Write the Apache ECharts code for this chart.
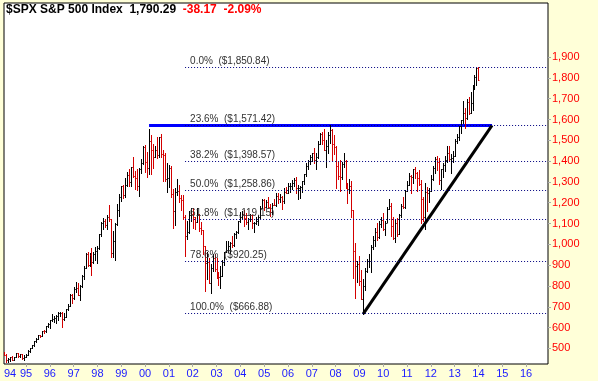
<!DOCTYPE html>
<html>
<head>
<meta charset="utf-8">
<script src="https://cdn.jsdelivr.net/npm/echarts@6.0.0/dist/echarts.min.js"></script>
<style>
html,body{margin:0;padding:0;background:#FFFFD8;}
#chart{width:598px;height:381px;}
</style>
</head>
<body>
<div id="chart"></div>
<script>
// Monthly bars, Feb 1994 .. Jan 2014 (one row per year)
var startYear = 1994, startMonth = 2;
var opens = [
 481.61,467.14,445.77,450.91,456.50,444.27,458.26,475.49,462.69,472.35,453.69,
 459.27,470.42,487.39,500.71,514.71,533.40,544.75,562.06,561.88,584.41,581.50,605.37,
 615.93,636.02,640.43,645.50,654.17,669.12,670.63,639.95,651.99,687.31,705.27,757.02,
 740.74,786.16,790.82,757.12,801.34,848.28,885.14,954.29,899.47,947.28,914.62,955.40,
 970.43,980.28,1049.34,1101.75,1111.75,1090.82,1133.84,1120.67,957.28,1017.01,1098.67,1163.63,
 1229.23,1279.64,1238.33,1286.37,1335.18,1301.84,1372.71,1328.72,1320.41,1282.71,1362.93,1388.91,
 1469.25,1394.46,1366.42,1498.58,1452.43,1420.60,1454.60,1430.83,1517.68,1436.51,1429.40,1314.95,
 1320.28,1366.01,1239.94,1160.33,1249.46,1255.82,1224.42,1211.23,1133.58,1040.94,1059.78,1139.45,
 1148.08,1130.20,1106.73,1147.39,1076.92,1067.14,989.82,911.62,916.07,815.28,885.76,936.31,
 879.82,855.70,841.15,848.18,916.92,963.59,974.50,990.31,1008.01,995.97,1050.71,1058.20,
 1111.92,1131.13,1144.94,1126.21,1107.30,1120.68,1140.84,1101.72,1104.24,1114.58,1130.20,1173.82,
 1211.92,1181.27,1203.60,1180.59,1156.85,1191.50,1191.33,1234.18,1220.33,1228.81,1207.01,1249.48,
 1248.29,1280.08,1280.66,1294.83,1310.61,1270.09,1270.20,1276.66,1303.82,1335.85,1377.94,1400.63,
 1418.30,1438.24,1406.82,1420.86,1482.37,1530.62,1503.35,1455.27,1473.99,1526.75,1549.38,1481.14,
 1468.36,1378.55,1330.63,1322.70,1385.59,1400.38,1280.00,1267.38,1282.83,1166.36,968.75,896.24,
 903.25,825.88,735.09,797.87,872.81,919.14,919.32,987.48,1020.62,1057.08,1036.19,1095.63,
 1115.10,1073.87,1104.49,1169.43,1186.69,1089.41,1030.71,1101.60,1049.33,1141.20,1183.26,1180.55,
 1257.64,1286.12,1327.22,1325.83,1363.61,1345.20,1320.64,1292.28,1218.89,1131.42,1253.30,1246.96,
 1257.60,1312.41,1365.68,1408.47,1397.91,1310.33,1362.16,1379.32,1406.58,1440.67,1412.16,1416.18,
 1426.19,1498.11,1514.68,1569.19,1597.57,1630.74,1606.28,1685.73,1632.97,1681.55,1756.54,1805.81,
 1848.36
];
var highs = [
 482,471,454,460,462,459,477,476,475,473,466,
 473,490,504,515,534,551,564,565,586,587,608,622,
 637,664,657,660,674,673,673,669,691,714,762,761,
 794,818,815,805,851,898,957,961,960,983,964,986,
 993,1051,1106,1126,1122,1141,1190,1121,1066,1104,1193,1244,
 1281,1283,1317,1346,1362,1373,1419,1351,1361,1366,1408,1474,
 1478,1445,1553,1527,1481,1475,1518,1518,1531,1454,1438,1389,
 1383,1376,1268,1269,1316,1286,1239,1235,1140,1111,1160,1173,
 1176,1131,1173,1148,1106,1071,994,965,935,907,952,954,
 935,865,895,924,965,1015,1016,1011,1040,1054,1063,1112,
 1155,1159,1164,1150,1128,1147,1141,1109,1131,1142,1184,1217,
 1217,1212,1229,1192,1200,1219,1246,1245,1243,1233,1270,1276,
 1295,1297,1311,1318,1326,1284,1280,1306,1340,1389,1407,1431,
 1441,1461,1438,1498,1535,1541,1556,1503,1539,1576,1553,1524,
 1471,1396,1406,1397,1441,1404,1293,1314,1303,1167,1007,919,
 943,876,833,888,930,956,996,1039,1080,1101,1113,1130,
 1150,1112,1180,1220,1201,1131,1120,1129,1148,1196,1227,1263,
 1303,1345,1332,1364,1371,1346,1357,1308,1229,1293,1277,1269,
 1334,1378,1420,1423,1415,1364,1392,1426,1475,1471,1434,1448,
 1504,1531,1570,1598,1688,1654,1698,1710,1730,1765,1814,1849,
 1850.84
];
var lows = [
 466,436,435,439,442,443,457,460,460,449,446,
 458,470,481,500,510,532,544,553,560,572,579,603,
 597,633,627,624,638,658,605,638,649,684,702,719,
 737,773,756,733,797,833,885,896,896,855,909,926,
 912,980,1041,1076,1082,1074,1112,940,939,923,1093,1137,
 1210,1223,1226,1281,1282,1281,1325,1268,1263,1233,1342,1387,
 1350,1325,1339,1339,1369,1420,1413,1421,1419,1305,1305,1254,
 1274,1228,1081,1091,1235,1203,1165,1124,944,1027,1054,1114,
 1081,1074,1106,1063,1048,953,776,833,815,768,873,870,
 840,807,789,847,902,963,962,960,988,994,1032,1056,
 1106,1124,1087,1098,1076,1113,1078,1060,1098,1091,1128,1173,
 1163,1180,1176,1137,1146,1188,1183,1201,1205,1169,1201,1245,
 1245,1253,1268,1280,1245,1219,1224,1253,1290,1327,1360,1385,
 1403,1389,1364,1416,1481,1484,1452,1370,1439,1489,1406,1435,
 1270,1316,1256,1312,1373,1272,1200,1247,1133,839,741,818,
 805,735,667,783,866,889,869,978,992,1020,1029,1085,
 1071,1045,1106,1169,1040,1028,1011,1040,1049,1132,1174,1173,
 1257,1285,1249,1294,1319,1258,1283,1102,1114,1075,1158,1202,
 1257,1311,1341,1358,1292,1267,1325,1354,1397,1403,1343,1398,
 1426,1485,1501,1536,1581,1560,1604,1627,1633,1646,1746,1767,
 1790.29
];
var closes = [
 467.14,445.77,450.91,456.50,444.27,458.26,475.49,462.69,472.35,453.69,459.27,
 470.42,487.39,500.71,514.71,533.40,544.75,562.06,561.88,584.41,581.50,605.37,615.93,
 636.02,640.43,645.50,654.17,669.12,670.63,639.95,651.99,687.31,705.27,757.02,740.74,
 786.16,790.82,757.12,801.34,848.28,885.14,954.29,899.47,947.28,914.62,955.40,970.43,
 980.28,1049.34,1101.75,1111.75,1090.82,1133.84,1120.67,957.28,1017.01,1098.67,1163.63,1229.23,
 1279.64,1238.33,1286.37,1335.18,1301.84,1372.71,1328.72,1320.41,1282.71,1362.93,1388.91,1469.25,
 1394.46,1366.42,1498.58,1452.43,1420.60,1454.60,1430.83,1517.68,1436.51,1429.40,1314.95,1320.28,
 1366.01,1239.94,1160.33,1249.46,1255.82,1224.42,1211.23,1133.58,1040.94,1059.78,1139.45,1148.08,
 1130.20,1106.73,1147.39,1076.92,1067.14,989.82,911.62,916.07,815.28,885.76,936.31,879.82,
 855.70,841.15,848.18,916.92,963.59,974.50,990.31,1008.01,995.97,1050.71,1058.20,1111.92,
 1131.13,1144.94,1126.21,1107.30,1120.68,1140.84,1101.72,1104.24,1114.58,1130.20,1173.82,1211.92,
 1181.27,1203.60,1180.59,1156.85,1191.50,1191.33,1234.18,1220.33,1228.81,1207.01,1249.48,1248.29,
 1280.08,1280.66,1294.83,1310.61,1270.09,1270.20,1276.66,1303.82,1335.85,1377.94,1400.63,1418.30,
 1438.24,1406.82,1420.86,1482.37,1530.62,1503.35,1455.27,1473.99,1526.75,1549.38,1481.14,1468.36,
 1378.55,1330.63,1322.70,1385.59,1400.38,1280.00,1267.38,1282.83,1166.36,968.75,896.24,903.25,
 825.88,735.09,797.87,872.81,919.14,919.32,987.48,1020.62,1057.08,1036.19,1095.63,1115.10,
 1073.87,1104.49,1169.43,1186.69,1089.41,1030.71,1101.60,1049.33,1141.20,1183.26,1180.55,1257.64,
 1286.12,1327.22,1325.83,1363.61,1345.20,1320.64,1292.28,1218.89,1131.42,1253.30,1246.96,1257.60,
 1312.41,1365.68,1408.47,1397.91,1310.33,1362.16,1379.32,1406.58,1440.67,1412.16,1416.18,1426.19,
 1498.11,1514.68,1569.19,1597.57,1630.74,1606.28,1685.73,1632.97,1681.55,1756.54,1805.81,1848.36,
 1790.29
];

// Fibonacci retracement levels
var fibPct = ['0.0%', '23.6%', '38.2%', '50.0%', '61.8%', '78.6%', '100.0%'];
var fibVal = [1850.84, 1571.42, 1398.57, 1258.86, 1119.15, 920.25, 666.88];
var fibStartX = 2001.68;

// Drawn lines (x in years, y in index points)
var blueLineX = [2000.167, 2014.57];
var blueLineY = [1571.42, 1571.42];
var trendX = [2009.167, 2014.57];
var trendY = [666.88, 1571.42];

// Axis ticks
var yearTicks = [1995,1996,1997,1998,1999,2000,2001,2002,2003,2004,2005,2006,2007,2008,2009,2010,2011,2012,2013,2014,2015,2016];
var priceTicks = [500,600,700,800,900,1000,1100,1200,1300,1400,1500,1600,1700,1800,1900];
var xMin = 1994.076, xMax = 2016.92;

function fmtComma(v, dec) {
  var s = v.toFixed(dec);
  var parts = s.split('.');
  parts[0] = parts[0].replace(/\B(?=(\d{3})+(?!\d))/g, ',');
  return parts.join('.');
}

var bars = [];
for (var i = 0; i < closes.length; i++) {
  var m = startMonth - 1 + i;
  var x = startYear + m / 12;
  bars.push([x, opens[i], highs[i], lows[i], closes[i]]);
}

var fibData = [];
for (var k = 0; k < fibVal.length; k++) {
  fibData.push([
    {coord: [fibStartX, fibVal[k]], label: {formatter: fibPct[k] + '  ($' + fmtComma(fibVal[k], 2) + ')'}},
    {coord: [xMax, fibVal[k]]}
  ]);
}

function pairs(xs, ys) {
  var out = [];
  for (var j = 0; j < xs.length; j++) out.push([xs[j], ys[j]]);
  return out;
}

var chart = echarts.init(document.getElementById('chart'), null, {renderer: 'canvas'});
chart.setOption({
  animation: false,
  backgroundColor: '#FFFFD8',
  title: {
    left: 6, top: 4, padding: 0,
    text: '{b|$SPX S&P 500 Index}  {b|1,790.29}  {r|-38.17}  {r|-2.09%}',
    textStyle: {
      fontFamily: 'Liberation Sans', fontWeight: 'bold', fontSize: 12, color: '#000',
      rich: {
        b: {fontFamily: 'Liberation Sans', fontWeight: 'bold', fontSize: 12, color: '#000000'},
        r: {fontFamily: 'Liberation Sans', fontWeight: 'bold', fontSize: 12, color: '#ff0000'}
      }
    }
  },
  grid: {left: 4, right: 50, top: 3, bottom: 17, show: true, backgroundColor: '#ffffff', borderColor: '#000000', borderWidth: 1},
  xAxis: {
    type: 'value', min: xMin, max: xMax,
    axisLine: {show: false},
    splitLine: {show: false},
    axisTick: {show: true, customValues: yearTicks, length: 3, lineStyle: {color: '#aaaaaa'}},
    axisLabel: {
      customValues: [xMin].concat(yearTicks),
      alignMinLabel: 'left',
      formatter: function (v) { return String(Math.floor(v + 1e-6)).slice(2); },
      color: '#1a1aff', fontFamily: 'Liberation Sans', fontSize: 11, margin: 4
    }
  },
  yAxis: {
    type: 'value', position: 'right', min: 425, max: 2160,
    axisLine: {show: false},
    splitLine: {show: false},
    axisTick: {show: true, customValues: priceTicks, length: 3, lineStyle: {color: '#aaaaaa'}},
    axisLabel: {
      customValues: priceTicks,
      formatter: function (v) { return fmtComma(v, 0); },
      color: '#ff0000', fontFamily: 'Liberation Sans', fontSize: 11, margin: 4,
      padding: [0, 0, 4, 0]
    }
  },
  series: [
    {
      type: 'line', data: [], z: 1, silent: true,
      markLine: {
        silent: true, symbol: ['none', 'none'], animation: false,
        lineStyle: {type: [1, 2], color: '#000080', width: 1},
        label: {show: true, position: 'insideStartTop', distance: [5, 1], color: '#333333', fontFamily: 'Liberation Sans', fontSize: 10},
        data: fibData
      }
    },
    {
      type: 'line', data: pairs(blueLineX, blueLineY), z: 2, symbol: 'none', silent: true,
      lineStyle: {color: '#0000ff', width: 3}
    },
    {
      type: 'line', data: pairs(trendX, trendY), z: 2, symbol: 'none', silent: true,
      lineStyle: {color: '#000000', width: 3}
    },
    {
      type: 'custom', z: 3, clip: true, silent: true,
      data: bars,
      encode: {x: 0, y: [1, 2, 3, 4]},
      renderItem: function (params, api) {
        var x = api.value(0), o = api.value(1), h = api.value(2), l = api.value(3), c = api.value(4);
        var pH = api.coord([x, h]), pL = api.coord([x, l]), pO = api.coord([x, o]), pC = api.coord([x, c]);
        var px = Math.round(pH[0]) + 0.5;
        var col = c < o ? '#d40000' : '#000000';
        var st = {stroke: col, lineWidth: 1};
        var yo = Math.round(pO[1]) + 0.5, yc = Math.round(pC[1]) + 0.5;
        return {
          type: 'group',
          children: [
            {type: 'line', shape: {x1: px, y1: Math.round(pH[1]), x2: px, y2: Math.round(pL[1]) + 1}, style: st},
            {type: 'line', shape: {x1: px - 1, y1: yo, x2: px, y2: yo}, style: st},
            {type: 'line', shape: {x1: px, y1: yc, x2: px + 1, y2: yc}, style: st}
          ]
        };
      }
    }
  ]
});
</script>
</body>
</html>
